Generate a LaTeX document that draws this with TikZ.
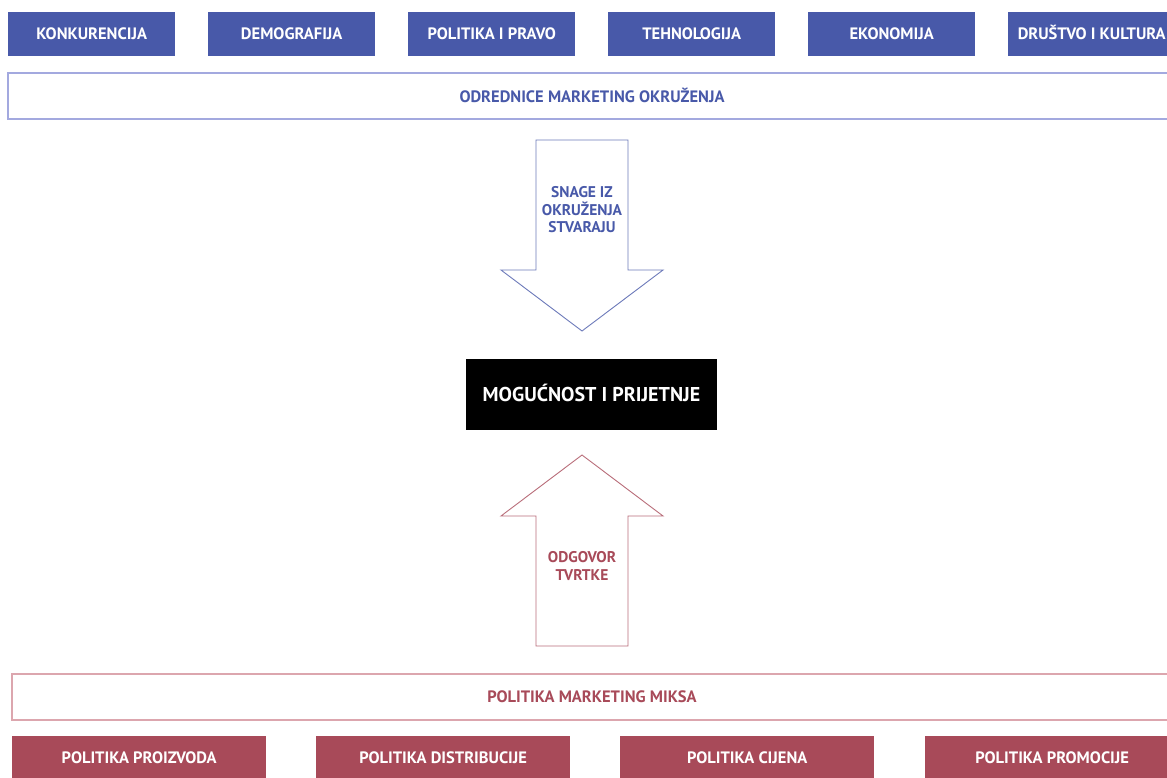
\documentclass[tikz,border=0pt]{standalone}
\usepackage{fontspec}
\setmainfont{PT Sans}
\begin{document}
\begin{tikzpicture}[x=1pt,y=-1pt,
  every node/.style={font=\fontsize{16.5}{19}\selectfont\bfseries},
  topbox/.style={fill=blueC,draw=none,minimum width=167pt,minimum height=44pt,text=white,anchor=north west,inner sep=0pt,text height=11.5pt,text depth=0pt},
  botbox/.style={fill=redC,draw=none,minimum width=254pt,minimum height=44pt,text=white,anchor=north west,inner sep=0pt,text height=11.5pt,text depth=0pt},
  widebar/.style={fill=white,line width=1.2pt},
  lbl/.style={align=center,font=\fontsize{15.5}{17.5}\selectfont\bfseries}]
\definecolor{blueC}{HTML}{4859A9}
\definecolor{redC}{HTML}{A84A59}
\definecolor{blueL}{HTML}{A3A9DF}
\definecolor{redL}{HTML}{DCA6AE}
\useasboundingbox (0,0) rectangle (1167,778);
\fill[white] (0,0) rectangle (1167,778);
% top boxes
\node[topbox] (t1) at (8,12) {KONKURENCIJA};
\node[topbox] (t2) at (208,12) {DEMOGRAFIJA};
\node[topbox] (t3) at (408,12) {POLITIKA I PRAVO};
\node[topbox] (t4) at (608,12) {TEHNOLOGIJA};
\node[topbox] (t5) at (808,12) {EKONOMIJA};
\node[topbox] (t6) at (1008,12) {DRUŠTVO I KULTURA};
% top wide bar
\draw[widebar,draw=blueL] (8,73) rectangle (1180,119);
\node[text=blueC,text height=11.5pt,text depth=0pt] (odr) at (592,97) {ODREDNICE MARKETING OKRUŽENJA};
% down arrow
\draw[draw=blueC!80,line width=0.9pt,line join=miter] (536,140) -- (628,140) -- (628,270) -- (663,270) -- (582,331) -- (501,270) -- (536,270) -- cycle;
\node[lbl,text=blueC] (snage) at (582,210) {SNAGE IZ\\OKRUŽENJA\\STVARAJU};
% center box
\node[fill=black,text=white,minimum width=251pt,minimum height=71pt,inner sep=0pt,text height=14pt,text depth=0pt,font=\fontsize{20}{22}\selectfont\bfseries] (mp) at (591.5,394.5) {MOGUĆNOST I PRIJETNJE};
% up arrow
\draw[draw=redC!80,line width=0.9pt,line join=miter] (536,646) -- (628,646) -- (628,516) -- (663,516) -- (582,455) -- (501,516) -- (536,516) -- cycle;
\node[lbl,text=redC] (odg) at (582,566) {ODGOVOR\\TVRTKE};
% bottom wide bar
\draw[widebar,draw=redL] (12,674) rectangle (1180,720);
\node[text=redC,text height=11.5pt,text depth=0pt] (pmm) at (592,697) {POLITIKA MARKETING MIKSA};
% bottom boxes
\node[botbox] (b1) at (12,736) {POLITIKA PROIZVODA};
\node[botbox] (b2) at (316,736) {POLITIKA DISTRIBUCIJE};
\node[botbox] (b3) at (620,736) {POLITIKA CIJENA};
\node[botbox] (b4) at (925,736) {POLITIKA PROMOCIJE};
\end{tikzpicture}
\end{document}
